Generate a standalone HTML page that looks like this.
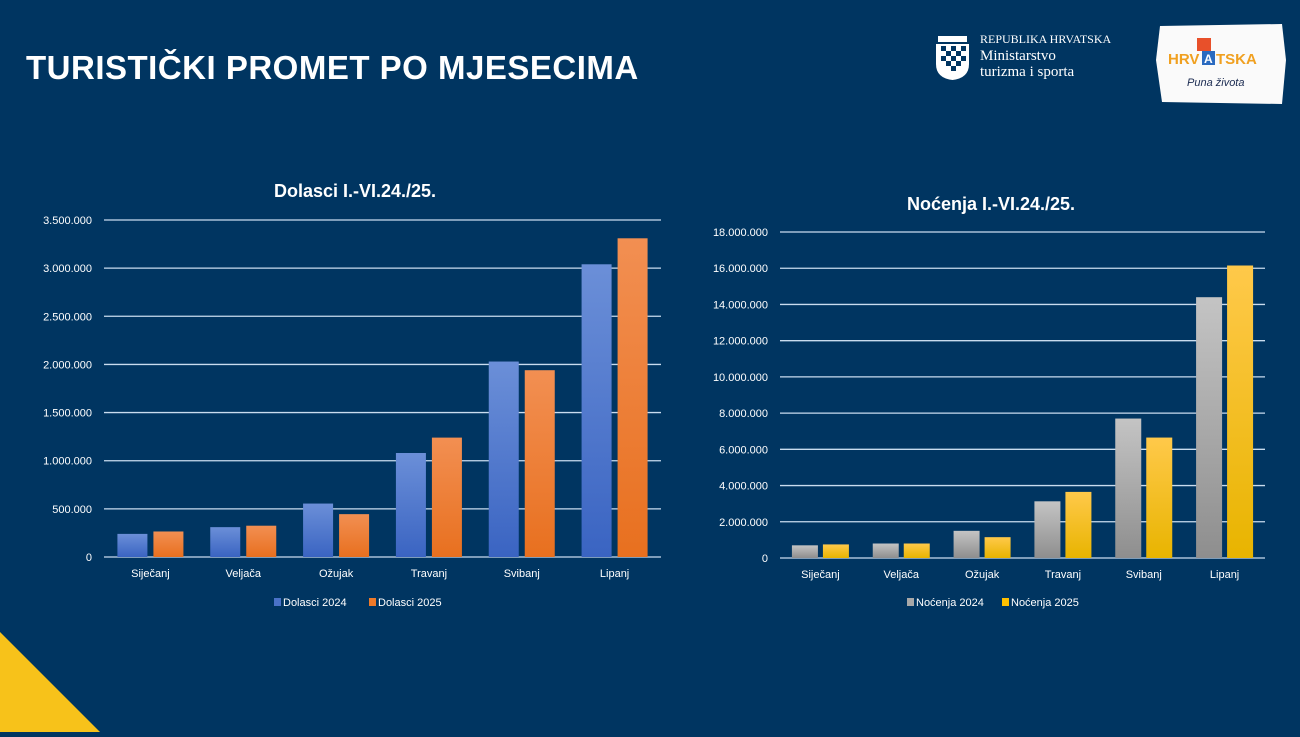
<!DOCTYPE html>
<html><head><meta charset="utf-8">
<style>
html,body{margin:0;padding:0}
body{width:1300px;height:732px;background:#003561;overflow:hidden;position:relative;font-family:"Liberation Sans",sans-serif}
</style></head>
<body>
<svg width="1300" height="732" viewBox="0 0 1300 732" xmlns="http://www.w3.org/2000/svg">
<defs>
<linearGradient id="gBlue" x1="0" y1="0" x2="0" y2="1"><stop offset="0" stop-color="#6b8fd8"/><stop offset="1" stop-color="#3a64c2"/></linearGradient>
<linearGradient id="gOrange" x1="0" y1="0" x2="0" y2="1"><stop offset="0" stop-color="#f28f52"/><stop offset="1" stop-color="#e8701f"/></linearGradient>
<linearGradient id="gGray" x1="0" y1="0" x2="0" y2="1"><stop offset="0" stop-color="#c4c4c4"/><stop offset="1" stop-color="#8e8e8e"/></linearGradient>
<linearGradient id="gYellow" x1="0" y1="0" x2="0" y2="1"><stop offset="0" stop-color="#ffc94a"/><stop offset="1" stop-color="#e8b400"/></linearGradient>
</defs>
<text x="26" y="79" font-size="33" font-weight="bold" fill="#fff" style="letter-spacing:0.5px">TURISTIČKI PROMET PO MJESECIMA</text>
<g>
<path d="M936 44 h33 v20 q0 14 -16.5 16 q-16.5 -2 -16.5 -16 z" fill="#fff"/>
<path d="M938 36 h29 v6 h-29z" fill="#fff"/>
<g fill="#003561"><rect x="941" y="46" width="5" height="5"/><rect x="951" y="46" width="5" height="5"/><rect x="961" y="46" width="5" height="5"/><rect x="946" y="51" width="5" height="5"/><rect x="956" y="51" width="5" height="5"/><rect x="941" y="56" width="5" height="5"/><rect x="951" y="56" width="5" height="5"/><rect x="961" y="56" width="5" height="5"/><rect x="946" y="61" width="5" height="5"/><rect x="956" y="61" width="5" height="5"/><rect x="951" y="66" width="5" height="5"/></g>
<text x="980" y="43" font-family="Liberation Serif" font-size="12" fill="#fff">REPUBLIKA HRVATSKA</text>
<text x="980" y="60" font-family="Liberation Serif" font-size="15" fill="#fff">Ministarstvo</text>
<text x="980" y="76" font-family="Liberation Serif" font-size="15" fill="#fff">turizma i sporta</text>
</g>
<g>
<path d="M1160 26 L1282 24 L1286 60 L1282 104 L1162 102 L1156 60 Z" fill="#fafafa"/>
<rect x="1197" y="38" width="14" height="13" fill="#e8502a"/>
<text x="1168" y="64" font-size="15" font-weight="bold" fill="#f0a020">HRV</text>
<rect x="1202" y="51" width="13" height="14" fill="#2a6ac0"/>
<text x="1204" y="63" font-size="12" font-weight="bold" fill="#fff">A</text>
<text x="1216" y="64" font-size="15" font-weight="bold" fill="#f0a020">TSKA</text>
<text x="1187" y="86" font-size="11" font-style="italic" fill="#1a2a50">Puna života</text>
</g>
<path d="M0 632 L0 732 L100 732 Z" fill="#f7c21a"/>
<g id="chart1"></g>
<g id="chart2"></g>
</svg>
<script>
const months = ["Siječanj","Veljača","Ožujak","Travanj","Svibanj","Lipanj"];
const dolasci2024 = [240000,310000,555000,1080000,2030000,3040000];
const dolasci2025 = [265000,325000,445000,1240000,1940000,3310000];
const dolasciTicks = [0,500000,1000000,1500000,2000000,2500000,3000000,3500000];
const nocenja2024 = [700000,800000,1500000,3130000,7700000,14400000];
const nocenja2025 = [750000,800000,1150000,3650000,6650000,16150000];
const nocenjaTicks = [0,2000000,4000000,6000000,8000000,10000000,12000000,14000000,16000000,18000000];
const NS="http://www.w3.org/2000/svg";
function fmt(v){return v.toString().replace(/\B(?=(\d{3})+(?!\d))/g,".");}
function mk(parent,tag,attrs){const e=document.createElementNS(NS,tag);for(const k in attrs)e.setAttribute(k,attrs[k]);parent.appendChild(e);return e;}
function draw(g,cfg){
  const y=v=>cfg.y0-(v/cfg.max)*(cfg.y0-cfg.yTop);
  const gw=(cfg.x1-cfg.x0)/cfg.cats.length;
  const t=mk(g,"text",{x:cfg.tx,y:cfg.ty,"text-anchor":"middle","font-size":18,"font-weight":"bold",fill:"#fff"});
  t.textContent=cfg.title;
  
  
  cfg.ticks.forEach(v=>{
    const l=mk(g,"line",{x1:cfg.x0,x2:cfg.x1,y1:y(v),y2:y(v),stroke:"#c9dcef","stroke-width":1.3});
    
    
    const tl=mk(g,"text",{x:cfg.x0-12,y:y(v)+4,"text-anchor":"end","font-size":11,fill:"#fff"});
    tl.textContent=fmt(v);
    
    
  });
  cfg.cats.forEach((c,i)=>{
    const cx=cfg.x0+gw*(i+0.5);
    [[cfg.s1,cfg.f1,-1],[cfg.s2,cfg.f2,1]].forEach(([s,f,d])=>{
      const x=d<0?cx-cfg.gap/2-cfg.bw:cx+cfg.gap/2;
      const r=mk(g,"rect",{x:x,y:y(s[i]),width:cfg.bw,height:cfg.y0-y(s[i]),fill:f});
      
      
    });
    const xl=mk(g,"text",{x:cx,y:cfg.y0+20,"text-anchor":"middle","font-size":11,fill:"#fff"});
    xl.textContent=c;
    
    
  });
  cfg.legend.forEach((L,i)=>{
    const lx=cfg.lx+i*cfg.lstep;
    const r=mk(g,"rect",{x:lx,y:cfg.ly-8,width:7,height:8,fill:L[1]});
    
    
    const lt=mk(g,"text",{x:lx+9,y:cfg.ly,"font-size":11,fill:"#fff"});
    lt.textContent=L[0];
    
    
  });
}
draw(document.getElementById("chart1"),{title:"Dolasci I.-VI.24./25.",tx:355,ty:197,x0:104,x1:661,y0:557,yTop:220,max:3500000,ticks:dolasciTicks,cats:months,s1:dolasci2024,s2:dolasci2025,f1:"url(#gBlue)",f2:"url(#gOrange)",bw:30,gap:6,legend:[["Dolasci 2024","#4a72c8"],["Dolasci 2025","#ee7a2a"]],lx:274,lstep:95,ly:606});
draw(document.getElementById("chart2"),{title:"Noćenja I.-VI.24./25.",tx:991,ty:210,x0:780,x1:1265,y0:558,yTop:232,max:18000000,ticks:nocenjaTicks,cats:months,s1:nocenja2024,s2:nocenja2025,f1:"url(#gGray)",f2:"url(#gYellow)",bw:26,gap:5,legend:[["Noćenja 2024","#a8a8a8"],["Noćenja 2025","#ffc000"]],lx:907,lstep:95,ly:606});
</script>
</body></html>
